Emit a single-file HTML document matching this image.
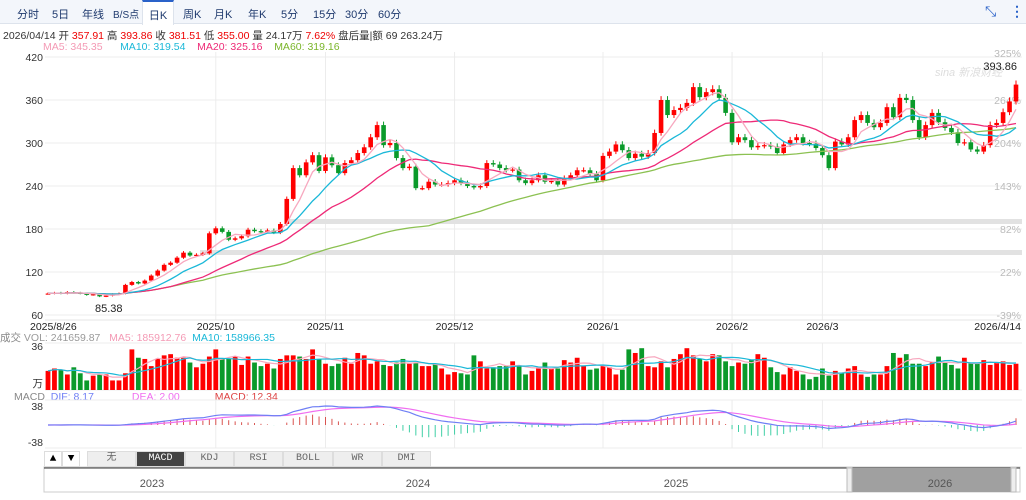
<!DOCTYPE html>
<html><head><meta charset="utf-8">
<style>
*{margin:0;padding:0;box-sizing:border-box}
body{width:1026px;height:500px;background:#fff;font-family:"Liberation Sans","Noto Sans CJK SC",sans-serif;position:relative;overflow:hidden;font-size:11px;color:#333}
.tabs{position:absolute;left:0;top:0;width:1026px;height:24px;background:#f3f6fb;border-bottom:1px solid #dde3ec}
.tab{position:absolute;top:6px;font-size:11px;color:#1f3a6e}
.tab.active{top:0;height:25px;width:32px;background:#fff;border-top:2px solid #2a62c9;border-left:1px solid #dde3ec;border-right:1px solid #dde3ec;text-align:center;padding-top:5px}
.abs{position:absolute;white-space:nowrap}
.btn{position:absolute;top:451px;height:16px;background:#eee;border:1px solid #ddd;font-size:10px;text-align:center;line-height:14px;color:#666;font-family:"Liberation Mono","Noto Sans CJK SC",monospace}
</style></head><body>
<div class="tabs">
<span class="tab" style="left:17px">分时</span>
<span class="tab" style="left:52px">5日</span>
<span class="tab" style="left:82px">年线</span>
<span class="tab" style="left:113px;font-size:10px">B/S点</span>
<span class="tab active" style="left:142px">日K</span>
<span class="tab" style="left:183px">周K</span>
<span class="tab" style="left:214px">月K</span>
<span class="tab" style="left:248px">年K</span>
<span class="tab" style="left:281px">5分</span>
<span class="tab" style="left:313px">15分</span>
<span class="tab" style="left:345px">30分</span>
<span class="tab" style="left:378px">60分</span>
<span class="abs" style="left:985px;top:3px;color:#2a62c9;font-size:14px">⤡</span>
<span class="abs" style="left:1010px;top:3px;color:#2a62c9;font-size:14px;font-weight:bold">⋮</span>
</div>
<div class="abs" style="left:3px;top:28px;font-size:10.5px">2026/04/14 开 <span style="color:#e00">357.91</span> 高 <span style="color:#e00">393.86</span> 收 <span style="color:#e00">381.51</span> 低 <span style="color:#e00">355.00</span> 量 24.17万 <span style="color:#e00">7.62%</span> 盘后量|额 69 263.24万</div>
<div class="abs" style="left:43px;top:41px;font-size:10.5px"><span style="color:#f49ab5">MA5: 345.35</span>&nbsp;&nbsp;&nbsp;&nbsp;&nbsp; <span style="color:#1ab8d8">MA10: 319.54</span>&nbsp;&nbsp;&nbsp; <span style="color:#ee2a77">MA20: 325.16</span>&nbsp;&nbsp;&nbsp; <span style="color:#7ab52a">MA60: 319.16</span></div>
<div class="abs" style="left:0;top:330px;font-size:10.5px"><span style="color:#888">成交</span> <span style="color:#999">VOL: 241659.87</span>&nbsp;&nbsp; <span style="color:#f49ab5">MA5: 185912.76</span>&nbsp; <span style="color:#1ab8d8">MA10: 158966.35</span></div>
<div class="abs" style="left:14px;top:391px;font-size:10.5px"><span style="color:#888">MACD</span>&nbsp; <span style="color:#6f7ff5">DIF: 8.17</span>&nbsp;&nbsp;&nbsp;&nbsp;&nbsp;&nbsp;&nbsp;&nbsp;&nbsp;&nbsp;&nbsp;&nbsp; <span style="color:#f06ef0">DEA: 2.00</span>&nbsp;&nbsp;&nbsp;&nbsp;&nbsp;&nbsp;&nbsp;&nbsp;&nbsp;&nbsp;&nbsp; <span style="color:#d44">MACD: 12.34</span></div>
<svg id="chart" width="1026" height="500" style="position:absolute;left:0;top:0"></svg>
<div class="btn" style="left:44px;width:18px;background:#fff;color:#000;font-size:11px">▲</div>
<div class="btn" style="left:62px;width:18px;background:#fff;color:#000;font-size:11px">▼</div>
<div class="btn" style="left:87px;width:49px">无</div>
<div class="btn" style="left:136px;width:49px;background:#444;color:#fff">MACD</div>
<div class="btn" style="left:185px;width:49px">KDJ</div>
<div class="btn" style="left:234px;width:49px">RSI</div>
<div class="btn" style="left:283px;width:50px">BOLL</div>
<div class="btn" style="left:333px;width:49px">WR</div>
<div class="btn" style="left:382px;width:49px">DMI</div>
<script>
const closes=[90,91,90,92,91,90,88,89,86,87,89,90,
102,106,104,108,115,122,130,133,140,147,143,144,146,
174,181,176,165,167,170,179,177,176,178,175,187,222,265,255,273,283,261,280,269,258,272,276,286,294,308,325,297,300,279,265,267,237,237,246,242,242,244,248,244,240,238,240,272,270,265,262,263,248,244,248,255,246,247,242,251,255,262,262,257,248,282,288,298,290,279,285,281,286,314,360,339,346,349,356,378,364,371,375,363,342,301,308,304,294,296,297,295,286,298,304,308,300,299,293,283,265,302,298,308,332,339,328,322,328,350,336,363,360,332,308,325,342,329,321,315,300,301,291,288,297,325,328,343,358,381.5];
const volumes=[16,18,17,13,19,14,8,12,13,13,8,8,14,34,27,26,20,26,29,30,27,27,23,19,22,28,34,26,26,28,21,28,23,20,22,18,26,29,29,28,26,34,26,22,20,22,27,22,31,29,22,24,21,20,23,26,22,23,20,20,22,18,13,15,14,13,29,24,18,19,20,20,24,20,13,16,19,23,18,18,25,23,27,20,17,18,20,19,13,17,34,31,35,20,19,24,19,26,30,35,29,26,24,30,29,24,20,23,22,25,30,27,19,15,13,19,16,13,9,11,18,12,16,14,18,20,13,11,13,13,20,31,27,30,22,22,20,23,28,23,21,18,27,23,22,25,21,23,24,21,22,28];
const priceTicks=[420,360,300,240,180,120,60];
const pctTicks=['325%','264%','204%','143%','82%','22%','-39%'];
const dateLabels=['2025/8/26','2025/10','2025/11','2025/12','2026/1','2026/2','2026/3','2026/4/14'];
const dateIndex=[0,26,43,63,86,106,120,149];
const navYears=['2023','2024','2025','2026'];

const svg=document.getElementById('chart');
const NS='http://www.w3.org/2000/svg';
function el(tag,attrs,parent){const e=document.createElementNS(NS,tag);for(const k in attrs)e.setAttribute(k,attrs[k]);(parent||svg).appendChild(e);return e;}
const N=closes.length;
const x0=48,x1=1016;
const xAt=i=>x0+i*(x1-x0)/(N-1);
const yP=p=>57+(420-p)*0.7167;
const yV=v=>390-v*(43/36);
const yM=m=>425-m*(19/38);

const grid=el('g',{});


priceTicks.forEach((p,k)=>{
  el('line',{x1:45,x2:1022,y1:yP(p),y2:yP(p),stroke:'#ececec'},grid);
  const t=el('text',{x:43,y:yP(p)+4,'text-anchor':'end','font-size':10.5,fill:'#333'});t.textContent=p;
  
  const t2=el('text',{x:1021,y:yP(p)+(k==0?0:4),'text-anchor':'end','font-size':10.5,fill:'#bbb'});t2.textContent=pctTicks[k];
  
});
dateIndex.forEach((di,k)=>{
  const x=xAt(di);
  if(k>0&&k<dateLabels.length-1){
    el('line',{x1:x,x2:x,y1:52,y2:320,stroke:'#ececec'},grid);
    el('line',{x1:x,x2:x,y1:343,y2:390,stroke:'#ececec'},grid);
    el('line',{x1:x,x2:x,y1:400,y2:448,stroke:'#ececec'},grid);
  }
  const anchor=k==0?'start':(k==dateLabels.length-1?'end':'middle');
  const t=el('text',{x:k==0?30:(k==dateLabels.length-1?1021:x),y:330,'text-anchor':anchor,'font-size':10.5,fill:'#222'});t.textContent=dateLabels[k];
  
});
el('line',{x1:45,x2:1022,y1:320,y2:320,stroke:'#e4e4e4'});
el('line',{x1:45,x2:1022,y1:343,y2:343,stroke:'#ececec'});
el('line',{x1:45,x2:1022,y1:390,y2:390,stroke:'#ececec'});
el('line',{x1:45,x2:1022,y1:400,y2:400,stroke:'#ececec'});
el('line',{x1:45,x2:1022,y1:448,y2:448,stroke:'#ececec'});
const b1=el('rect',{x:285,y:219,width:737,height:5,fill:'#e2e2e2'});

const b2=el('rect',{x:200,y:250,width:822,height:5,fill:'#e2e2e2'});

const wm=el('text',{x:935,y:76,'font-size':11,fill:'#ddd','font-style':'italic'});wm.textContent='sina 新浪财经';


function ma(n){return closes.map((c,i)=>{const s=Math.max(0,i-n+1);let t=0;for(let j=s;j<=i;j++)t+=closes[j];return t/(i-s+1);});}
function line(vals,yf,color,name,w){
  const p=el('polyline',{points:vals.map((v,i)=>xAt(i)+','+yf(v)).join(' '),fill:'none',stroke:color,'stroke-width':w||1.3});
  
}
const opens=closes.map((c,i)=>i==0?c:closes[i-1]);
closes.forEach((c,i)=>{
  const o=opens[i],up=c>=o,col=up?'#f00':'#0a9a2a',x=xAt(i);
  const hi=Math.max(o,c)*1.015,lo=Math.min(o,c)*0.988;
  const g=el('g',{});
  
  el('line',{x1:x,x2:x,y1:yP(hi),y2:yP(lo),stroke:col,'stroke-width':1},g);
  const top=yP(Math.max(o,c)),h=Math.max(1.2,yP(Math.min(o,c))-top);
  el('rect',{x:x-2.3,y:top,width:4.6,height:h,fill:col},g);
  const v=volumes[i]||0;
  const vb=el('rect',{x:x-2.4,y:yV(v),width:4.8,height:390-yV(v),fill:col});
  
});
line(ma(60),yP,'#8cc152','ma60-line');
line(ma(20),yP,'#ee2a77','ma20-line');
line(ma(10),yP,'#1ab8d8','ma10-line');
line(ma(5),yP,'#f7a8bf','ma5-line');
function vma(n){return volumes.slice(0,N).map((c,i)=>{const s=Math.max(0,i-n+1);let t=0;for(let j=s;j<=i;j++)t+=volumes[j];return t/(i-s+1);});}
line(vma(5),yV,'#f7a8bf','volume-ma5',1.2);
line(vma(10),yV,'#1ab8d8','volume-ma10',1.2);
function ema(arr,n){const k=2/(n+1);const out=[];arr.forEach((v,i)=>out.push(i==0?v:out[i-1]+k*(v-out[i-1])));return out;}
const e12=ema(closes,12),e26=ema(closes,26);
const dif=e12.map((v,i)=>(v-e26[i]));
const dea=ema(dif,9);
dif.forEach((d,i)=>{
  const m=Math.max(-38,Math.min(38,2*(d-dea[i])*1.1));
  const h=el('line',{x1:xAt(i),x2:xAt(i),y1:425,y2:yM(m),stroke:m>=0?'#d9534f':'#3fcfa5','stroke-width':1});
  
});
line(dea.map(v=>Math.max(-38,Math.min(38,v))),yM,'#f06ef0','dea-line',1.2);
line(dif.map(v=>Math.max(-38,Math.min(38,v))),yM,'#6f7ff5','dif-line',1.2);
[['36',350,'volume-max-label'],['万',387,'volume-unit'],['38',410,'macd-max-label'],['-38',446,'macd-min-label']].forEach(a=>{
  const t=el('text',{x:43,y:a[1],'text-anchor':'end','font-size':10.5,fill:'#333'});t.textContent=a[0];
  
});
const hl=el('text',{x:1017,y:70,'text-anchor':'end','font-size':11,fill:'#222'});hl.textContent='393.86';

const ll=el('text',{x:95,y:312,'font-size':11,fill:'#222'});ll.textContent='85.38';

const nav=el('g',{});

el('rect',{x:44,y:467,width:976,height:25,fill:'#fff',stroke:'#ccc'},nav);
el('line',{x1:44,x2:1020,y1:468,y2:468,stroke:'#333'},nav);
el('rect',{x:851,y:468,width:160,height:24,fill:'#a0a0a0'},nav);
el('rect',{x:847,y:468,width:5,height:24,fill:'#eee',stroke:'#bbb'},nav);
el('rect',{x:1011,y:468,width:5,height:24,fill:'#eee',stroke:'#bbb'},nav);
[152,418,676,940].forEach((x,k)=>{const t=el('text',{x:x,y:487,'text-anchor':'middle','font-size':11,fill:'#555'},nav);t.textContent=navYears[k];
  });
</script>
</body></html>
